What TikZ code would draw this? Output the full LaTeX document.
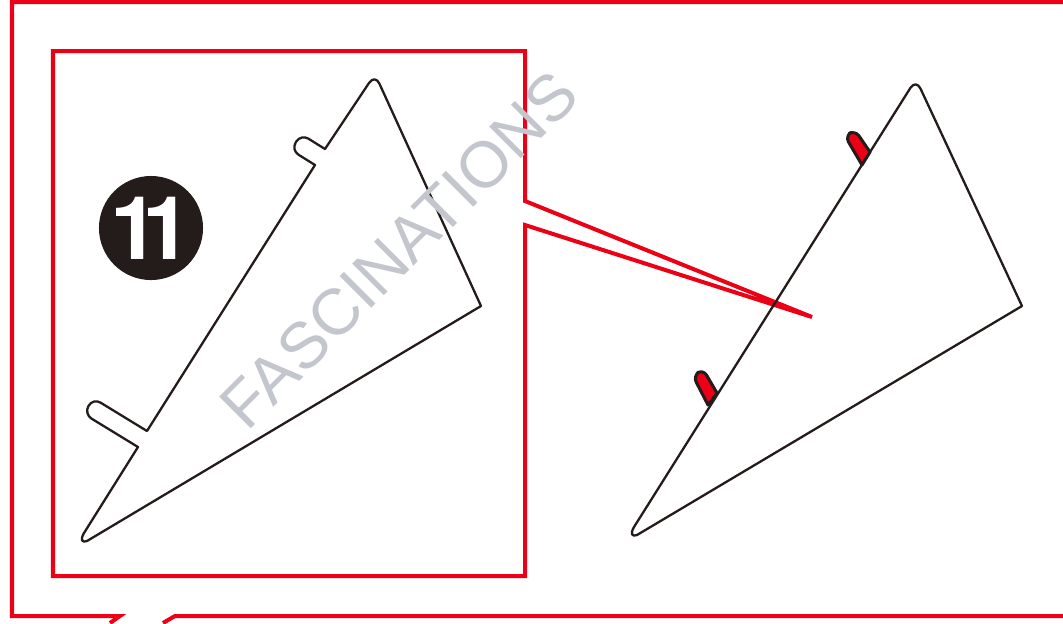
\documentclass[tikz,border=0pt]{standalone}
\usepackage{fontspec}
\setmainfont{Liberation Sans}
\newfontfamily\numfont{TeX Gyre Heros}
\definecolor{framered}{RGB}{235,0,22}
\definecolor{inkblack}{RGB}{35,28,26}
\definecolor{markgray}{RGB}{195,198,205}
\begin{document}
\begin{tikzpicture}[
    x=0.01cm, y=-0.01cm,
    frame/.style={draw=framered, line width=0.04cm, line join=miter},
    outline/.style={draw=inkblack, line width=0.023cm, line join=round},
    tab/.style={outline, fill=framered, line width=0.03cm},
    badge/.style={circle, fill=inkblack, minimum size=1.04cm, inner sep=0pt, text=white,
      font=\fontsize{25}{25}\selectfont\numfont\bfseries},
    watermark/.style={text=markgray, rotate=45, inner sep=0pt, font=\fontsize{18.5}{18.5}\selectfont},
]
\useasboundingbox (0,0) rectangle (1063,623);
% Outer callout
\draw[frame] (110,623) -- (120,616) -- (12,616) -- (12,2) -- (1063,2)
  (1063,616) -- (175,616) -- (163,623);
% Inner box and its pointer
\coordinate (tip) at (812,317);
\draw[frame] (525,201) -- (525,51) -- (53,51) -- (53,576) -- (525,576) -- (525,225) -- (tip) -- cycle;
% Left triangle
\draw[outline] (138,447) [rounded corners=2.5pt] -- (84,414) -- (93,398) [sharp corners] -- (147,431)
  -- (315,165) [rounded corners=2.5pt] -- (291,150) -- (301,134) [sharp corners] -- (325,149)
  [rounded corners=3pt] -- (375,74) [sharp corners] -- (481,306)
  -- (87,541) .. controls (82,543) and (80,540) .. (84,533) -- cycle;
% Right triangle
\draw[outline] (637,535) .. controls (632,537) and (630,534) .. (634,527)
  [rounded corners=3pt] -- (916,79) [sharp corners] -- (1022,306) -- cycle;
\draw[tab] (862,165) [rounded corners=2pt] -- (845,136) -- (855,130) [sharp corners] -- (870,152) -- cycle;
\draw[tab] (708,405) [rounded corners=2pt] -- (693,376) -- (703,369) [sharp corners] -- (717,393) -- cycle;
% Number and watermark
\node[badge] (num) at (151,228) {1\kern-5pt 1};
\node[watermark] (mark) at (399,250) {FASCINATIONS};
\end{tikzpicture}
\end{document}
